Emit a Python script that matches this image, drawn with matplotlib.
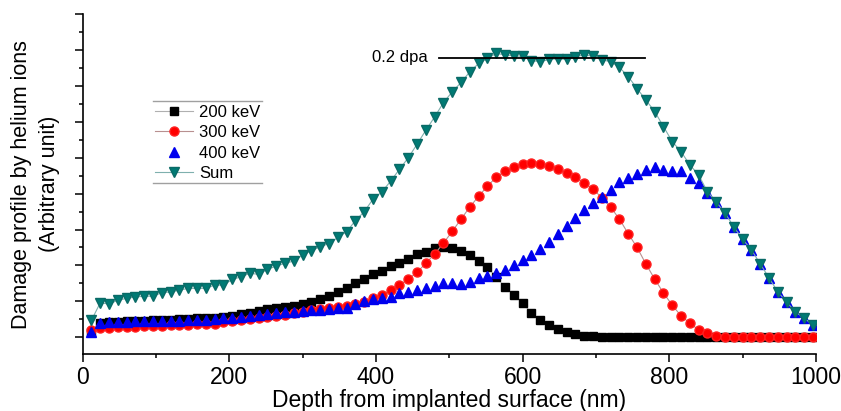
import matplotlib
matplotlib.use("Agg")
import matplotlib.pyplot as plt
from matplotlib.lines import Line2D
from matplotlib.ticker import MultipleLocator

plt.rcParams['font.family'] = ['Liberation Sans', 'DejaVu Sans']

# depth grid (nm)
depth = [12, 24, 36, 48, 60, 72, 84, 96, 108, 120, 132, 144, 156, 168, 180, 192,
         204, 216, 228, 240, 252, 264, 276, 288, 300, 312, 324, 336, 348, 360, 372,
         384, 396, 408, 420, 432, 444, 456, 468, 480, 492, 504, 516, 528, 540, 552,
         564, 576, 588, 600, 612, 624, 636, 648, 660, 672, 684, 696, 708, 720, 732,
         744, 756, 768, 780, 792, 804, 816, 828, 840, 852, 864, 876, 888, 900, 912,
         924, 936, 948, 960, 972, 984, 996]

kev200 = [0.15, 0.40, 0.42, 0.43, 0.44, 0.45, 0.46, 0.47, 0.48, 0.49, 0.50, 0.51,
          0.52, 0.53, 0.54, 0.56, 0.60, 0.64, 0.68, 0.73, 0.78, 0.80, 0.83, 0.86,
          0.92, 0.99, 1.06, 1.16, 1.26, 1.37, 1.51, 1.62,
          1.76, 1.84, 1.98, 2.06, 2.18, 2.32, 2.37, 2.48, 2.51, 2.48, 2.40, 2.29,
          2.12, 1.95, 1.67, 1.39, 1.17, 0.95, 0.67, 0.47, 0.33, 0.22, 0.14, 0.08,
          0.04, 0.02, 0.01,
          0, 0, 0, 0, 0, 0, 0, 0, 0, 0, 0, 0, 0, 0, 0, 0, 0, 0, 0, 0, 0, 0, 0, 0]

kev300 = [0.21, 0.25, 0.26, 0.27, 0.28, 0.29, 0.30, 0.31, 0.32, 0.33, 0.34, 0.35,
          0.36, 0.37, 0.38, 0.41, 0.44, 0.48, 0.51, 0.54, 0.57, 0.60, 0.63, 0.67,
          0.71, 0.75, 0.78, 0.81, 0.84, 0.87, 0.92, 0.98,
          1.09, 1.17, 1.31, 1.45, 1.62, 1.81, 2.06, 2.32, 2.62, 2.95, 3.29, 3.63,
          3.93, 4.21, 4.46, 4.63, 4.74, 4.82, 4.85, 4.82, 4.77, 4.69, 4.57, 4.46,
          4.30, 4.13, 3.88, 3.62, 3.29, 2.88, 2.50, 2.04, 1.62, 1.23, 0.89, 0.59,
          0.39, 0.20, 0.11, 0.03,
          0, 0, 0, 0, 0, 0, 0, 0, 0, 0, 0]

kev400 = [0.15, 0.39, 0.41, 0.42, 0.43, 0.44, 0.44, 0.45, 0.45, 0.46, 0.46, 0.47,
          0.48, 0.49, 0.50, 0.52, 0.54, 0.56, 0.59, 0.62, 0.64, 0.67, 0.69, 0.71,
          0.73, 0.75, 0.77, 0.79, 0.80, 0.81, 0.92, 1.00,
          1.06, 1.09, 1.12, 1.23, 1.26, 1.31, 1.37, 1.42, 1.51, 1.51, 1.48, 1.53,
          1.65, 1.70, 1.79, 1.87, 2.01, 2.15, 2.29, 2.45, 2.64, 2.88, 3.10, 3.32,
          3.54, 3.74, 3.91, 4.10, 4.32, 4.45, 4.56, 4.65, 4.74, 4.65, 4.64, 4.63,
          4.45, 4.31, 4.02, 3.77, 3.46, 3.07, 2.73, 2.43, 2.04, 1.65, 1.26, 0.98,
          0.70, 0.53, 0.33]

total = [0.47, 0.96, 0.92, 1.03, 1.08, 1.12, 1.14, 1.14, 1.24, 1.26, 1.31, 1.36,
         1.36, 1.36, 1.45, 1.45, 1.61, 1.68, 1.78, 1.75, 1.89, 1.98, 2.06, 2.12,
         2.29, 2.41, 2.52, 2.61, 2.78, 2.94,
         3.25, 3.50, 3.85, 4.05, 4.35, 4.68, 5.00, 5.38,
         5.77, 6.14, 6.54, 6.84, 7.10, 7.40, 7.63, 7.77, 7.91, 7.87, 7.84, 7.83,
         7.71, 7.68, 7.74, 7.76, 7.74, 7.82, 7.87, 7.83, 7.73, 7.68, 7.52, 7.26,
         6.93, 6.61, 6.29, 5.87,
         5.45, 5.17, 4.80, 4.52, 4.05, 3.77, 3.46, 3.07, 2.73, 2.43, 2.04, 1.65,
         1.26, 0.98, 0.70, 0.53, 0.33]

labels = ["200 keV", "300 keV", "400 keV", "Sum"]
dpa_level = 7.79
dpa_span = [486, 767]

fig = plt.figure(figsize=(8.41, 4.11), dpi=100)
ax = fig.add_axes([0.0983, 0.1387, 0.872, 0.8265])

ax.plot(depth, kev200, color="#b0b0b0", lw=0.8, marker="s", ms=5.8,
        mfc="black", mec="black", label=labels[0])
ax.plot(depth, kev300, color="#b89090", lw=0.8, marker="o", ms=6.5,
        mfc="#ff0000", mec="#ff2020", label=labels[1])
ax.plot(depth, kev400, ls="none", marker="^", ms=7,
        mfc="#0000ee", mec="#0000ee", label=labels[2])
ax.plot(depth, total, color="#7fb0ae", lw=0.8, marker="v", ms=7,
        mfc="#007a74", mec="#0a6a66", label=labels[3])

# 0.2 dpa marker line
ax.plot(dpa_span, [dpa_level, dpa_level], color="black", lw=1.3, zorder=5)
ax.text(470, dpa_level, "0.2 dpa", ha="right", va="center", fontsize=12)

ax.set_xlim(0, 1000)
ax.set_ylim(-0.47, 9.0)
ax.xaxis.set_major_locator(MultipleLocator(200))
ax.xaxis.set_minor_locator(MultipleLocator(100))
ax.yaxis.set_major_locator(MultipleLocator(1))
ax.yaxis.set_minor_locator(MultipleLocator(0.5))
ax.tick_params(which="major", length=6, width=1.1, labelsize=16.5, direction="out", pad=3)
ax.tick_params(which="minor", length=3, width=1.1, direction="out")
ax.tick_params(axis="y", labelleft=False)
for s in ["top", "right"]:
    ax.spines[s].set_visible(False)
for s in ["left", "bottom"]:
    ax.spines[s].set_linewidth(1.2)

ax.set_xlabel("Depth from implanted surface (nm)", fontsize=16.5, labelpad=0)
ax.set_ylabel("Damage profile by helium ions\n(Arbitrary unit)", fontsize=15.5,
              linespacing=1.45, labelpad=10)

leg = ax.legend(loc="center left", bbox_to_anchor=(155 / 841, 1 - 143 / 411),
                bbox_transform=fig.transFigure, frameon=False, fontsize=12,
                numpoints=1, handlelength=2.3, handletextpad=0.35,
                labelspacing=0.32, borderpad=0, borderaxespad=0)

# Origin-style lines above and below the legend
for yy in [101, 183]:
    fig.add_artist(Line2D([153 / 841, 262 / 841], [1 - yy / 411, 1 - yy / 411],
                          color="#a0a0a0", lw=1.0))

fig.savefig("out.png", dpi=100)
